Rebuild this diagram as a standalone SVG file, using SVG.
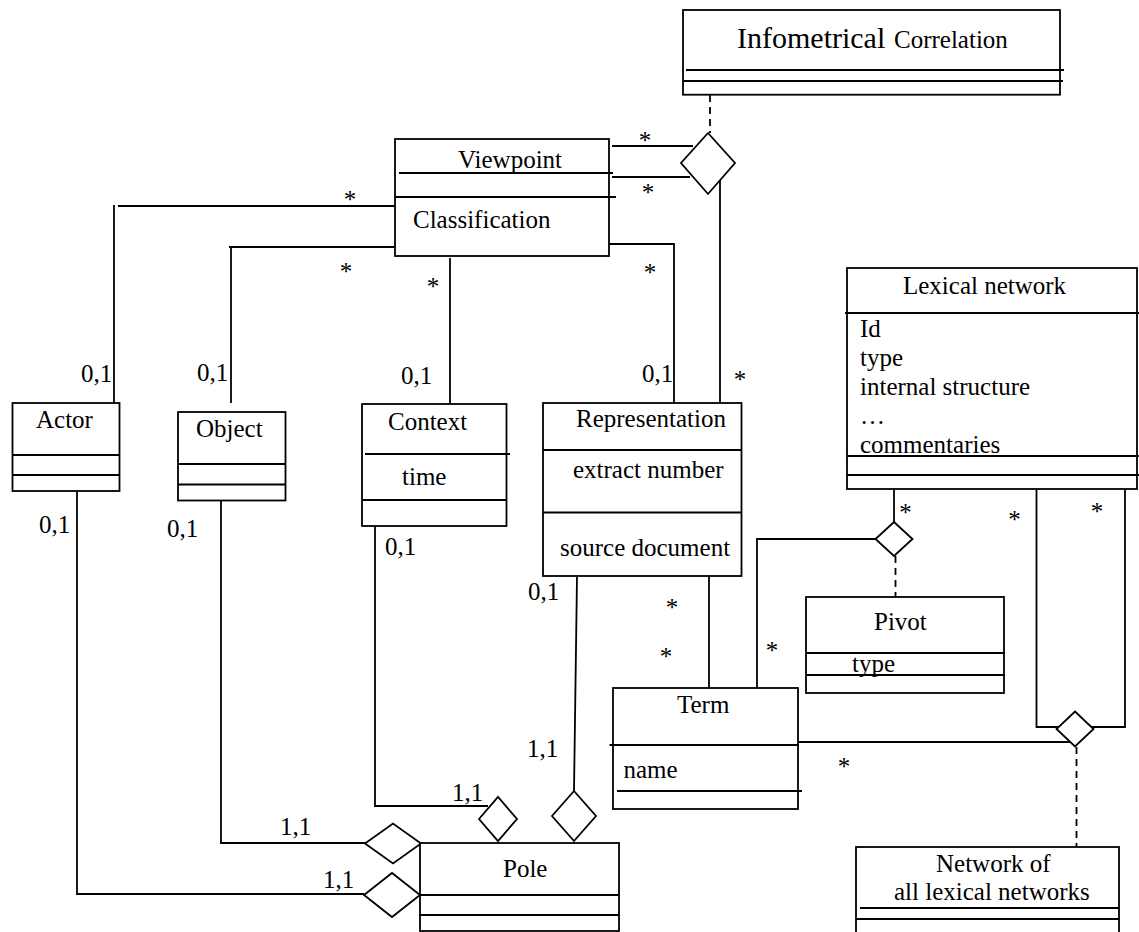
<svg xmlns="http://www.w3.org/2000/svg" width="1139" height="932" viewBox="0 0 1139 932">
  <style>
    .box { fill: #ffffff; stroke: #000; stroke-width: 1.8; }
    .ln { fill: none; stroke: #000; stroke-width: 1.8; }
    .dash { fill: none; stroke: #000; stroke-width: 1.8; stroke-dasharray: 7 5; }
    .dia { fill: #ffffff; stroke: #000; stroke-width: 1.8; stroke-linejoin: miter; }
    text { font-family: "Liberation Serif", "Times New Roman", serif; font-size: 25px; fill: #000; }
    .m { text-anchor: middle; }
  </style>

  <!-- associations -->
  <g id="connectors">
    <!-- Viewpoint / Representation / Infometrical Correlation -->
    <line class="ln" x1="612" y1="146" x2="693" y2="146"/>
    <line class="ln" x1="612" y1="177" x2="690" y2="177"/>
    <line class="dash" x1="710" y1="95" x2="710" y2="133"/>
    <line class="ln" x1="720" y1="175" x2="720" y2="403"/>
    <polyline class="ln" points="608,244 674,244 674,403"/>
    <polygon class="dia" points="708,133 735,163 708,194 681,163"/>

    <!-- Viewpoint to Actor, Object, Context -->
    <line class="ln" x1="118" y1="206" x2="396" y2="206"/>
    <line class="ln" x1="114" y1="205" x2="114" y2="403"/>
    <line class="ln" x1="229" y1="247" x2="395" y2="247"/>
    <line class="ln" x1="231" y1="247" x2="231" y2="403"/>
    <line class="ln" x1="450" y1="258" x2="450" y2="404"/>

    <!-- Pole aggregations -->
    <polyline class="ln" points="77,490 77,894 364,894"/>
    <polygon class="dia" points="364,895 392,873 420,895 392,917"/>
    <polyline class="ln" points="221,497 221,843 365,843"/>
    <polygon class="dia" points="365,843.5 393,823.5 421,843.5 393,863.5"/>
    <polyline class="ln" points="375,523 375,806 488,806"/>
    <polygon class="dia" points="479,819 498,797 517,819 498,841"/>
    <line class="ln" x1="577" y1="577" x2="574" y2="791"/>
    <polygon class="dia" points="574,791 596,816 574,841 552,816"/>

    <!-- Representation / Term -->
    <line class="ln" x1="709" y1="575" x2="709" y2="688"/>

    <!-- Lexical network / Pivot / Term -->
    <polyline class="ln" points="757,690 757,539 876,539"/>
    <line class="ln" x1="894" y1="489" x2="894" y2="522"/>
    <polygon class="dia" points="894,522 912.5,539 894,556 875.5,539"/>
    <line class="dash" x1="895.5" y1="556" x2="895.5" y2="597"/>

    <!-- Lexical network self-association -->
    <polyline class="ln" points="1036.5,489 1036.5,727 1059,727"/>
    <polyline class="ln" points="1125,462 1125,727 1088,727"/>
    <line class="ln" x1="794" y1="742" x2="1071" y2="742"/>
    <polygon class="dia" points="1075,711.5 1093.5,729 1075,746.5 1056.5,729"/>
    <line class="dash" x1="1076.5" y1="747" x2="1076.5" y2="847"/>

    <!-- multiplicities -->
    <text class="m" x="645" y="149">*</text>
    <text class="m" x="648" y="201">*</text>
    <text class="m" x="350" y="208">*</text>
    <text class="m" x="346" y="280">*</text>
    <text class="m" x="433" y="295">*</text>
    <text class="m" x="650" y="281">*</text>
    <text class="m" x="740" y="388">*</text>
    <text class="m" x="905.5" y="521">*</text>
    <text class="m" x="1014.5" y="528">*</text>
    <text class="m" x="1097" y="520">*</text>
    <text class="m" x="672" y="616">*</text>
    <text class="m" x="666" y="665">*</text>
    <text class="m" x="772" y="659">*</text>
    <text class="m" x="844" y="775">*</text>

    <text x="81" y="382">0,1</text>
    <text x="197" y="381">0,1</text>
    <text x="401" y="384">0,1</text>
    <text x="642" y="382">0,1</text>
    <text x="39" y="533">0,1</text>
    <text x="167" y="537">0,1</text>
    <text x="385" y="555">0,1</text>
    <text x="528" y="600">0,1</text>

    <text x="323" y="888">1,1</text>
    <text x="280" y="835">1,1</text>
    <text x="452" y="801">1,1</text>
    <text x="527" y="757">1,1</text>
  </g>

  <g id="infometrical-correlation">
    <rect class="box" x="683" y="10" width="377" height="84.7"/>
    <line class="ln" x1="686" y1="70" x2="1064" y2="70"/>
    <line class="ln" x1="683" y1="81" x2="1063" y2="81"/>
    <text x="737" y="48" style="font-size:30px">Infometrical</text>
    <text x="894" y="48">Correlation</text>
  </g>

  <g id="viewpoint">
    <rect class="box" x="395" y="139" width="214" height="117"/>
    <line class="ln" x1="399" y1="173" x2="613" y2="173"/>
    <line class="ln" x1="395" y1="197" x2="616" y2="197"/>
    <text x="458" y="168">Viewpoint</text>
    <text x="413" y="228">Classification</text>
  </g>

  <g id="actor">
    <rect class="box" x="12.5" y="403" width="107" height="88"/>
    <line class="ln" x1="12.5" y1="455" x2="119.5" y2="455"/>
    <line class="ln" x1="12.5" y1="475" x2="119.5" y2="475"/>
    <text x="36" y="428">Actor</text>
  </g>

  <g id="object">
    <rect class="box" x="178" y="412" width="107.5" height="88.5"/>
    <line class="ln" x1="178" y1="464" x2="285.5" y2="464"/>
    <line class="ln" x1="178" y1="484.5" x2="285.5" y2="484.5"/>
    <text x="196" y="437">Object</text>
  </g>

  <g id="context">
    <rect class="box" x="362" y="404" width="144.5" height="122"/>
    <line class="ln" x1="365" y1="454" x2="510" y2="454"/>
    <line class="ln" x1="362" y1="500" x2="506.5" y2="500"/>
    <text x="388" y="430">Context</text>
    <text x="402" y="485">time</text>
  </g>

  <g id="representation">
    <rect class="box" x="543" y="403" width="198.5" height="173"/>
    <line class="ln" x1="543" y1="450" x2="741.5" y2="450"/>
    <line class="ln" x1="543" y1="512.5" x2="741.5" y2="512.5"/>
    <text x="576" y="427">Representation</text>
    <text x="573" y="478">extract number</text>
    <text x="560" y="556">source document</text>
  </g>

  <g id="lexical-network">
    <rect class="box" x="847" y="268" width="290" height="221"/>
    <line class="ln" x1="845" y1="313" x2="1139" y2="313"/>
    <line class="ln" x1="847" y1="456" x2="1139" y2="456"/>
    <line class="ln" x1="847" y1="475" x2="1139" y2="475"/>
    <text x="903" y="294">Lexical network</text>
    <text x="860" y="337">Id</text>
    <text x="860" y="366">type</text>
    <text x="860" y="395">internal structure</text>
    <text x="860" y="424">…</text>
    <text x="860" y="453">commentaries</text>
  </g>

  <g id="pivot">
    <rect class="box" x="806" y="597" width="198" height="96"/>
    <line class="ln" x1="806" y1="653" x2="1004" y2="653"/>
    <line class="ln" x1="806" y1="675" x2="1004" y2="675"/>
    <text x="874" y="630">Pivot</text>
    <text x="852" y="672">type</text>
  </g>

  <g id="term">
    <rect class="box" x="613" y="688" width="185" height="121"/>
    <line class="ln" x1="609.5" y1="745" x2="799" y2="745"/>
    <line class="ln" x1="617" y1="791" x2="802" y2="791"/>
    <text x="677" y="713">Term</text>
    <text x="623.5" y="778">name</text>
  </g>

  <g id="pole">
    <rect class="box" x="420" y="843" width="199" height="88"/>
    <line class="ln" x1="420" y1="895" x2="619" y2="895"/>
    <line class="ln" x1="420" y1="915" x2="619" y2="915"/>
    <text x="503" y="877">Pole</text>
  </g>

  <g id="network-of-networks">
    <rect class="box" x="856" y="847" width="263" height="95"/>
    <line class="ln" x1="860" y1="908" x2="1119" y2="908"/>
    <line class="ln" x1="856" y1="919" x2="1119" y2="919"/>
    <text x="936" y="872">Network of</text>
    <text x="894" y="900">all lexical networks</text>
  </g>
</svg>
